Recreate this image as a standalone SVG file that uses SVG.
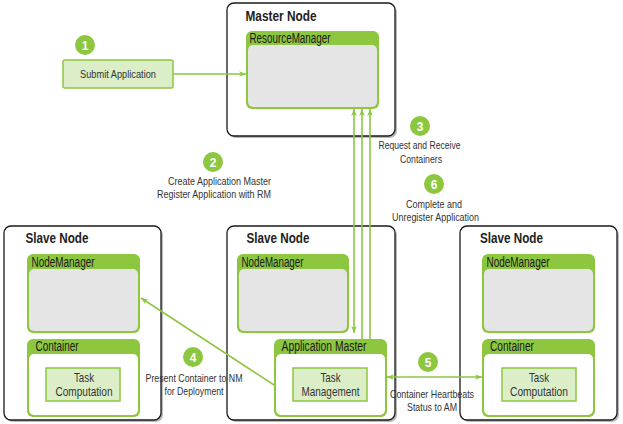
<svg xmlns="http://www.w3.org/2000/svg" width="623" height="424" viewBox="0 0 623 424">
<defs>
<marker id="ah" viewBox="0 0 10 10" refX="10" refY="5" markerWidth="7" markerHeight="7" orient="auto-start-reverse" markerUnits="userSpaceOnUse">
<path d="M0,1 L10,5 L0,9 L3,5 Z" fill="#8dc63f"/>
</marker>
<style>
text{font-family:"Liberation Sans",Arial,sans-serif}
.node{fill:#fff;stroke:#1a1a1a;stroke-width:1.3}
.shadow{fill:#bbb}
.ttl{font-size:14.5px;font-weight:bold;fill:#222}
.hdr{fill:#8dc63f}
.grey{fill:#e5e5e5}
.white{fill:#fff}
.comp{font-size:14px;fill:#1a1a1a}
.task{fill:#dbeec8;stroke:#8dc63f;stroke-width:1.5}
.lbl{font-size:11.5px;fill:#333}
.tl{font-size:13.5px;fill:#333;text-anchor:middle}
.num{fill:#8dc63f}
.numt{font-size:12px;font-weight:bold;fill:#fff;text-anchor:middle}
.conn{stroke:#8dc63f;stroke-width:1.6;fill:none}
</style>
</defs>

<g id="master">
<rect class="shadow" x="229" y="5" width="168" height="133" rx="7"/>
<rect class="node" x="227" y="3" width="168" height="133" rx="7"/>
<text class="ttl" x="245.5" y="21" textLength="71" lengthAdjust="spacingAndGlyphs">Master Node</text>
<g id="rm">
<rect class="hdr" x="246" y="31" width="133" height="78" rx="6"/>
<rect class="grey" x="248" y="45" width="129" height="62" rx="5"/>
<text class="comp" x="249.5" y="43" textLength="81" lengthAdjust="spacingAndGlyphs">ResourceManager</text>
</g>
</g>

<g id="submit">
<rect class="task" x="63" y="60" width="110" height="28" rx="2"/>
<text class="lbl" x="118" y="78" text-anchor="middle" textLength="76" lengthAdjust="spacingAndGlyphs">Submit Application</text>
</g>

<g id="slave1">
<rect class="shadow" x="6" y="228" width="157" height="194" rx="7"/>
<rect class="node" x="4" y="226" width="157" height="194" rx="7"/>
<text class="ttl" x="25.5" y="243" textLength="63" lengthAdjust="spacingAndGlyphs">Slave Node</text>
<g id="nm1">
<rect class="hdr" x="27" y="254" width="113" height="79" rx="6"/>
<rect class="grey" x="29" y="269" width="109" height="62" rx="5"/>
<text class="comp" x="31.5" y="266.5" textLength="63" lengthAdjust="spacingAndGlyphs">NodeManager</text>
</g>
<g id="c1">
<rect class="hdr" x="27" y="339" width="113" height="78" rx="6"/>
<rect class="white" x="29" y="354" width="109" height="61" rx="5"/>
<text class="comp" x="35.5" y="350.5" textLength="43" lengthAdjust="spacingAndGlyphs">Container</text>
<rect class="task" x="46" y="368" width="74" height="33"/>
<text class="tl" x="84" y="382" textLength="20" lengthAdjust="spacingAndGlyphs">Task</text>
<text class="tl" x="84" y="395.5" textLength="57" lengthAdjust="spacingAndGlyphs">Computation</text>
</g>
</g>

<g id="slave2">
<rect class="shadow" x="229" y="228" width="168" height="194" rx="7"/>
<rect class="node" x="227" y="226" width="168" height="194" rx="7"/>
<text class="ttl" x="246.5" y="243" textLength="63" lengthAdjust="spacingAndGlyphs">Slave Node</text>
<g id="nm2">
<rect class="hdr" x="237" y="254" width="112" height="79" rx="6"/>
<rect class="grey" x="239" y="269" width="108" height="62" rx="5"/>
<text class="comp" x="241.5" y="266.5" textLength="62" lengthAdjust="spacingAndGlyphs">NodeManager</text>
</g>
<g id="am">
<rect class="hdr" x="274" y="339" width="113" height="78" rx="6"/>
<rect class="white" x="276" y="354" width="109" height="61" rx="5"/>
<text class="comp" x="281.5" y="350.5" textLength="85" lengthAdjust="spacingAndGlyphs">Application Master</text>
<rect class="task" x="293" y="368" width="74" height="33"/>
<text class="tl" x="330.5" y="382" textLength="20" lengthAdjust="spacingAndGlyphs">Task</text>
<text class="tl" x="330.5" y="395.5" textLength="58" lengthAdjust="spacingAndGlyphs">Management</text>
</g>
</g>

<g id="slave3">
<rect class="shadow" x="462" y="228" width="157" height="194" rx="7"/>
<rect class="node" x="460" y="226" width="157" height="194" rx="7"/>
<text class="ttl" x="480" y="243" textLength="63" lengthAdjust="spacingAndGlyphs">Slave Node</text>
<g id="nm3">
<rect class="hdr" x="482" y="254" width="113" height="79" rx="6"/>
<rect class="grey" x="484" y="269" width="109" height="62" rx="5"/>
<text class="comp" x="486.5" y="266.5" textLength="63" lengthAdjust="spacingAndGlyphs">NodeManager</text>
</g>
<g id="c3">
<rect class="hdr" x="482" y="339" width="113" height="78" rx="6"/>
<rect class="white" x="484" y="354" width="109" height="61" rx="5"/>
<text class="comp" x="490" y="350.5" textLength="44" lengthAdjust="spacingAndGlyphs">Container</text>
<rect class="task" x="502" y="368" width="74" height="33"/>
<text class="tl" x="539" y="382" textLength="20" lengthAdjust="spacingAndGlyphs">Task</text>
<text class="tl" x="539" y="395.5" textLength="58" lengthAdjust="spacingAndGlyphs">Computation</text>
</g>
</g>

<g id="connectors">
<line class="conn" x1="173" y1="74" x2="246" y2="74" marker-end="url(#ah)"/>
<line class="conn" x1="354" y1="109" x2="354" y2="333" marker-start="url(#ah)" marker-end="url(#ah)"/>
<line class="conn" x1="362" y1="340" x2="362" y2="109" marker-end="url(#ah)"/>
<line class="conn" x1="370" y1="340" x2="370" y2="109" marker-end="url(#ah)"/>
<line class="conn" x1="274" y1="385" x2="141" y2="298" marker-end="url(#ah)"/>
<line class="conn" x1="387" y1="377" x2="482" y2="377" marker-start="url(#ah)" marker-end="url(#ah)"/>
</g>

<g id="steps">
<circle class="num" cx="85" cy="45" r="10"/><text class="numt" x="85" y="49.5">1</text>
<circle class="num" cx="213" cy="162" r="10"/><text class="numt" x="213" y="166.5">2</text>
<text class="lbl" x="271" y="185" text-anchor="end" textLength="103" lengthAdjust="spacingAndGlyphs">Create Application Master</text>
<text class="lbl" x="271" y="198" text-anchor="end" textLength="114" lengthAdjust="spacingAndGlyphs">Register Application with RM</text>
<circle class="num" cx="420" cy="126" r="10"/><text class="numt" x="420" y="130.5">3</text>
<text class="lbl" x="419.5" y="149" text-anchor="middle" textLength="82" lengthAdjust="spacingAndGlyphs">Request and Receive</text>
<text class="lbl" x="421" y="162.5" text-anchor="middle" textLength="42" lengthAdjust="spacingAndGlyphs">Containers</text>
<circle class="num" cx="434" cy="184" r="10"/><text class="numt" x="434" y="188.5">6</text>
<text class="lbl" x="434" y="207.5" text-anchor="middle" textLength="56" lengthAdjust="spacingAndGlyphs">Complete and</text>
<text class="lbl" x="435.5" y="220.5" text-anchor="middle" textLength="87" lengthAdjust="spacingAndGlyphs">Unregister Application</text>
<circle class="num" cx="193" cy="357" r="10"/><text class="numt" x="193" y="361.5">4</text>
<text class="lbl" x="194" y="381.5" text-anchor="middle" textLength="97" lengthAdjust="spacingAndGlyphs">Present Container to NM</text>
<text class="lbl" x="194" y="394.5" text-anchor="middle" textLength="59" lengthAdjust="spacingAndGlyphs">for Deployment</text>
<circle class="num" cx="428" cy="362" r="10"/><text class="numt" x="428" y="366.5">5</text>
<text class="lbl" x="432" y="397.5" text-anchor="middle" textLength="84" lengthAdjust="spacingAndGlyphs">Container Heartbeats</text>
<text class="lbl" x="432" y="410.5" text-anchor="middle" textLength="50" lengthAdjust="spacingAndGlyphs">Status to AM</text>
</g>
</svg>
